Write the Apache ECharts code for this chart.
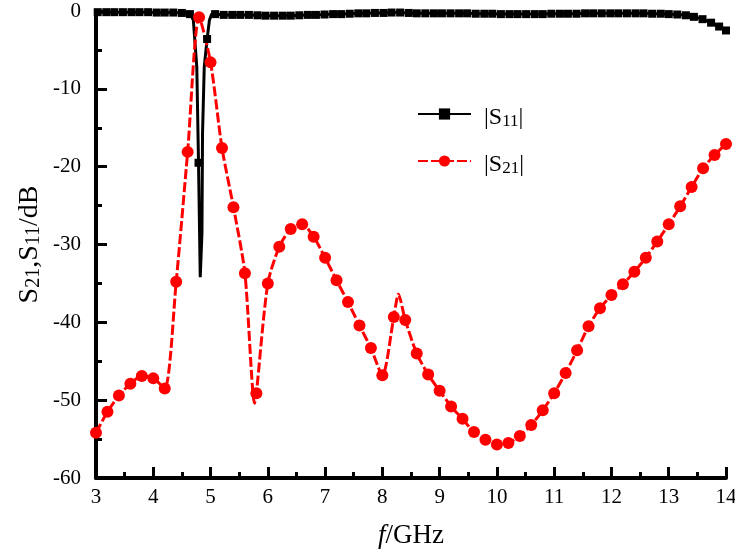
<!DOCTYPE html>
<html>
<head>
<meta charset="utf-8">
<script src="https://cdn.jsdelivr.net/npm/echarts@6/dist/echarts.min.js"></script>
<style>
  html, body { margin: 0; padding: 0; background: #fff; }
  #chart { width: 735px; height: 552px; }
</style>
</head>
<body>
<div id="chart"></div>
<script>
// S21 markers, every 0.2 GHz
var s21X = [3.0, 3.2, 3.4, 3.6, 3.8, 4.0, 4.2, 4.4, 4.6, 4.8, 5.0, 5.2, 5.4, 5.6, 5.8, 6.0,
  6.2, 6.4, 6.6, 6.8, 7.0, 7.2, 7.4, 7.6, 7.8, 8.0, 8.2, 8.4, 8.6, 8.8, 9.0, 9.2, 9.4, 9.6,
  9.8, 10.0, 10.2, 10.4, 10.6, 10.8, 11.0, 11.2, 11.4, 11.6, 11.8, 12.0, 12.2, 12.4, 12.6,
  12.8, 13.0, 13.2, 13.4, 13.6, 13.8, 14.0];
var s21Y = [-54.2, -51.5, -49.4, -47.9, -46.9, -47.2, -48.5, -34.8, -18.1, -0.8, -6.6, -17.6,
  -25.2, -33.7, -49.1, -35.0, -30.3, -28.0, -27.4, -29.0, -31.7, -34.6, -37.4, -40.4, -43.3,
  -46.8, -39.3, -39.7, -44.0, -46.7, -48.8, -50.8, -52.4, -54.1, -55.1, -55.7, -55.5, -54.6,
  -53.2, -51.3, -49.1, -46.5, -43.6, -40.5, -38.2, -36.5, -35.1, -33.5, -31.7, -29.6, -27.4,
  -25.1, -22.6, -20.2, -18.5, -17.1];
// S21 curve points without a marker
var s21LineX = [5.77, 8.28];
var s21LineY = [-50.4, -36.4];

// S11 markers
var s11X = [3.03, 3.18, 3.32, 3.47, 3.62, 3.76, 3.91, 4.06, 4.20, 4.35, 4.50, 4.64, 4.79,
  4.94, 5.08, 5.23, 5.38, 5.52, 5.67, 5.82, 5.96, 6.11, 6.26, 6.40, 6.55, 6.70, 6.84, 6.99,
  7.14, 7.28, 7.43, 7.58, 7.72, 7.87, 8.02, 8.16, 8.31, 8.46, 8.60, 8.75, 8.90, 9.04, 9.19,
  9.34, 9.48, 9.63, 9.78, 9.92, 10.07, 10.22, 10.36, 10.51, 10.66, 10.80, 10.95, 11.10,
  11.24, 11.39, 11.54, 11.68, 11.83, 11.98, 12.12, 12.27, 12.42, 12.56, 12.71, 12.86, 13.00,
  13.15, 13.30, 13.44, 13.59, 13.74, 13.88, 14.00];
var s11Y = [-0.15, -0.15, -0.15, -0.15, -0.15, -0.15, -0.15, -0.2, -0.2, -0.2, -0.25, -0.4,
  -19.5, -3.6, -0.4, -0.5, -0.5, -0.5, -0.5, -0.55, -0.6, -0.6, -0.6, -0.6, -0.55, -0.5, -0.5,
  -0.45, -0.4, -0.4, -0.35, -0.3, -0.3, -0.25, -0.25, -0.2, -0.2, -0.25, -0.3, -0.3, -0.3,
  -0.3, -0.3, -0.3, -0.3, -0.35, -0.35, -0.35, -0.4, -0.4, -0.4, -0.4, -0.4, -0.4, -0.35,
  -0.35, -0.35, -0.35, -0.3, -0.3, -0.3, -0.3, -0.3, -0.3, -0.3, -0.3, -0.35, -0.35, -0.4,
  -0.45, -0.55, -0.75, -1.05, -1.5, -2.0, -2.5];
// S11 curve points without a marker (resonance dip)
var s11LineX = [4.67, 4.70, 4.76, 4.82, 4.85, 4.86, 4.89, 4.98, 5.02];
var s11LineY = [-0.7, -1.2, -7.2, -34.2, -28.5, -15.7, -7.2, -1.2, -0.4];

var serif = 'Liberation Serif';

function buildData(mx, my, lx, ly) {
  var pts = [];
  mx.forEach(function (x, i) { pts.push({ value: [x, my[i]] }); });
  lx.forEach(function (x, i) { pts.push({ value: [x, ly[i]], symbol: 'none' }); });
  pts.sort(function (a, b) { return a.value[0] - b.value[0]; });
  return pts;
}

var legendRich = {
  p: { width: 8 },
  a: { fontFamily: serif, fontSize: 24, lineHeight: 32, verticalAlign: 'bottom', color: '#000' },
  b: { fontFamily: serif, fontSize: 17, lineHeight: 27, verticalAlign: 'bottom', color: '#000' }
};
var titleRich = {
  a: { fontFamily: serif, fontSize: 28, lineHeight: 34, verticalAlign: 'bottom', color: '#000' },
  b: { fontFamily: serif, fontSize: 20, lineHeight: 29, verticalAlign: 'bottom', color: '#000' }
};

var axisCommon = {
  type: 'value',
  nameLocation: 'middle',
  nameMoveOverlap: false,
  axisLine: { onZero: false, lineStyle: { color: '#000', width: 4 } },
  axisTick: { inside: true, length: 11, lineStyle: { color: '#000', width: 3 } },
  minorTick: { show: true, splitNumber: 2, length: 6, lineStyle: { color: '#000', width: 3 } },
  splitLine: { show: false }
};

var chart = echarts.init(document.getElementById('chart'));
chart.setOption({
  animation: false,
  backgroundColor: '#fff',
  grid: { left: 96, right: 9, top: 11, bottom: 74, outerBoundsMode: 'none' },
  legend: {
    orient: 'vertical',
    left: 412,
    top: 101,
    itemWidth: 53,
    itemHeight: 14,
    itemGap: 23,
    data: ['S11', 'S21'],
    formatter: function (name) {
      return '{p| }{a||S}{b|' + name.slice(1) + '}{a||}';
    },
    textStyle: { rich: legendRich }
  },
  xAxis: Object.assign({}, axisCommon, {
    min: 3,
    max: 14,
    interval: 1,
    name: '{i|f}{n|/GHz}',
    nameGap: 44,
    nameTextStyle: {
      rich: {
        i: { fontFamily: serif, fontSize: 27, fontStyle: 'italic', color: '#000' },
        n: { fontFamily: serif, fontSize: 27, color: '#000' }
      }
    },
    axisLabel: { color: '#000', fontFamily: serif, fontSize: 21, margin: 9 }
  }),
  yAxis: Object.assign({}, axisCommon, {
    min: -60,
    max: 0,
    interval: 10,
    name: '{a|S}{b|21}{a|,S}{b|11}{a|/dB}',
    nameGap: 52,
    nameRotate: 90,
    nameTextStyle: { rich: titleRich },
    axisLabel: { color: '#000', fontFamily: serif, fontSize: 21, margin: 15 }
  }),
  series: [
    {
      name: 'S11',
      type: 'line',
      data: buildData(s11X, s11Y, s11LineX, s11LineY),
      symbol: 'rect',
      symbolSize: 8,
      showAllSymbol: true,
      color: '#000',
      lineStyle: { color: '#000', width: 3 },
      itemStyle: { color: '#000' }
    },
    {
      name: 'S21',
      type: 'line',
      data: buildData(s21X, s21Y, s21LineX, s21LineY),
      smooth: 0.25,
      symbol: 'circle',
      symbolSize: 12,
      showAllSymbol: true,
      color: '#ff0000',
      lineStyle: { color: '#ff0000', width: 3, type: [10, 3] },
      itemStyle: { color: '#ff0000' }
    }
  ]
});
</script>
</body>
</html>
